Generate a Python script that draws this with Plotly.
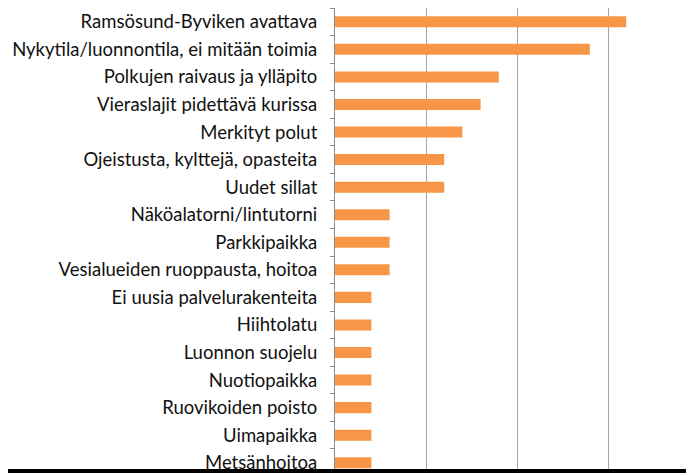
import plotly.graph_objects as go

# categories top to bottom, and the answer counts
categories = [
    'Ramsösund-Byviken avattava',
    'Nykytila/luonnontila, ei mitään toimia',
    'Polkujen raivaus ja ylläpito',
    'Vieraslajit pidettävä kurissa',
    'Merkityt polut',
    'Ojeistusta, kylttejä, opasteita',
    'Uudet sillat',
    'Näköalatorni/lintutorni',
    'Parkkipaikka',
    'Vesialueiden ruoppausta, hoitoa',
    'Ei uusia palvelurakenteita',
    'Hiihtolatu',
    'Luonnon suojelu',
    'Nuotiopaikka',
    'Ruovikoiden poisto',
    'Uimapaikka',
    'Metsänhoitoa',
]
counts = [16, 14, 9, 8, 7, 6, 6, 3, 3, 3, 2, 2, 2, 2, 2, 2, 2]

# the page body adds an 8px margin, so the figure is 8px smaller
W, H = 686, 465
m_l, m_r, m_t, m_b = 327, 0, 0, 4
plot_h = H - m_t - m_b

fig = go.Figure(go.Bar(
    x=counts,
    y=categories,
    orientation='h',
    marker=dict(color='#F79646', line=dict(width=0)),
    width=0.4,
))

fig.update_layout(
    width=W, height=H,
    margin=dict(l=m_l, r=m_r, t=m_t, b=m_b, autoexpand=False),
    paper_bgcolor='white',
    plot_bgcolor='white',
    showlegend=False,
    font=dict(family='Lato', size=18.5, color='#111111'),
)

fig.update_xaxes(
    range=[0, (W - m_l) / 18.2],
    dtick=5,
    showgrid=True,
    gridcolor='#a6a6a6',
    gridwidth=1,
    zeroline=False,
    showticklabels=False,
    showline=False,
)

fig.update_yaxes(
    type='category',
    categoryorder='array',
    categoryarray=categories,
    range=[-0.5 + plot_h / 27.56, -0.5],
    showline=True,
    linecolor='#8c8c8c',
    linewidth=1,
    ticks='outside',
    tickson='boundaries',
    ticklen=4,
    tickcolor='#8c8c8c',
    ticklabelstandoff=13,
    showgrid=False,
    automargin=False,
)

# black frame line along the bottom edge of the picture
fig.add_shape(
    type='rect', xref='paper', yref='paper',
    x0=-m_l / (W - m_l), x1=1, y0=-m_b / plot_h, y1=0,
    fillcolor='black', line=dict(width=0), layer='above',
)

fig.write_html('out.html')
